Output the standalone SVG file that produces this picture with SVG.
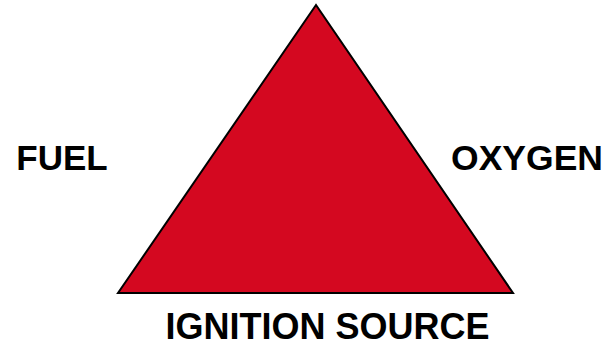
<svg xmlns="http://www.w3.org/2000/svg" width="607" height="346" viewBox="0 0 607 346">
<style>
.lbl{font-family:"Liberation Sans",Arial,sans-serif;font-weight:bold;font-size:35px;fill:#000;text-anchor:middle}
.tri{fill:#D40820;stroke:#000;stroke-width:2;stroke-linejoin:miter}
</style>
<rect width="607" height="346" fill="#fff"/>
<g id="triangle"><polygon class="tri" points="316,5 118,293 513,293"/></g>
<g id="fuel"><text class="lbl" x="62" y="170">FUEL</text></g>
<g id="oxygen"><text class="lbl" x="527" y="170" style="font-size:35.5px">OXYGEN</text></g>
<g id="ignition"><text class="lbl" x="327.5" y="339" style="font-size:36px">IGNITION SOURCE</text></g>
<g id="connectors"></g>
</svg>
